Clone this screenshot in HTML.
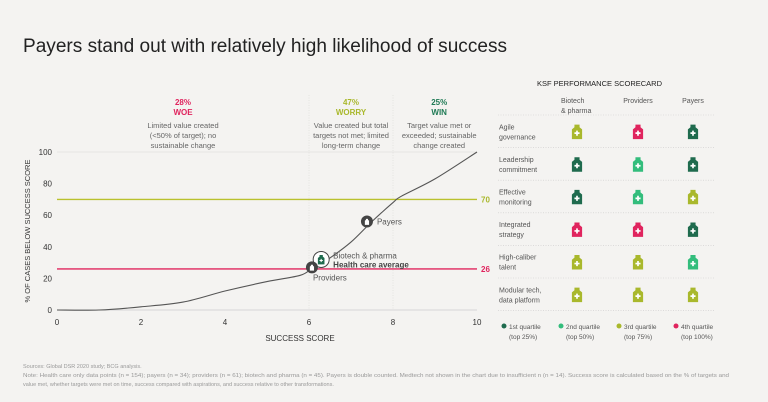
<!DOCTYPE html>
<html><head><meta charset="utf-8"><style>
body{margin:0;background:#f4f3f1;}
svg{display:block;font-family:"Liberation Sans",sans-serif;}
</style></head><body>
<svg id="chart" width="768" height="402" viewBox="0 0 768 402" xmlns="http://www.w3.org/2000/svg">
<rect width="768" height="402" fill="#f4f3f1"/>
<text x="23" y="52" font-size="19" fill="#222" textLength="484" lengthAdjust="spacingAndGlyphs">Payers stand out with relatively high likelihood of success</text>
<g id="plot"></g>
<g id="card"></g>
<text x="23" y="368" font-size="5.5" fill="#999">Sources: Global DSR 2020 study; BCG analysis.</text>
<text x="23" y="377" font-size="5.5" fill="#999" textLength="706" lengthAdjust="spacingAndGlyphs">Note: Health care only data points (n = 154); payers (n = 34); providers (n = 61); biotech and pharma (n = 45). Payers is double counted. Medtech not shown in the chart due to insufficient n (n = 14). Success score is calculated based on the % of targets and</text>
<text x="23" y="386" font-size="5.5" fill="#999">value met, whether targets were met on time, success compared with aspirations, and success relative to other transformations.</text>
</svg>
<script>
const xTicks=[0,2,4,6,8,10];
const yTicks=[0,20,40,60,80,100];
const curveX=[0,1,2,3,4,5,5.8,6.1,6.5,7,7.5,8,8.2,9,10];
const curveY=[0,0,2,5,12,18,22,27,33,43,56,68,72,83,100];
const markerNames=["Payers","Biotech & pharma","Providers"];
const markerX=[7.38,6.29,6.07];
const markerY=[56,32,27];
const refValues=[70,26];
const rowLabels=[["Agile","governance"],["Leadership","commitment"],["Effective","monitoring"],["Integrated","strategy"],["High-caliber","talent"],["Modular tech,","data platform"]];
const colLabels=[["Biotech","& pharma"],["Providers"],["Payers"]];
const quartiles=[[3,4,1],[1,2,1],[1,2,3],[4,4,1],[3,3,2],[3,3,3]];
const qColors=["#1f6b4e","#33bd7c","#a9b82c","#e0245e"];
const qLabels=[["1st quartile","(top 25%)"],["2nd quartile","(top 50%)"],["3rd quartile","(top 75%)"],["4th quartile","(top 100%)"]];

const NS="http://www.w3.org/2000/svg";
function mk(t,a,p,txt){const e=document.createElementNS(NS,t);for(const k in a)e.setAttribute(k,a[k]);if(txt!==undefined)e.textContent=txt;p.appendChild(e);return e;}
const X=v=>57+v*42, Y=v=>310-v*1.58;
const plot=document.getElementById('plot');

let e;
e=mk('line',{x1:X(0),x2:X(10),y1:Y(100),y2:Y(100),stroke:'#e2e0dc','stroke-width':0.8},plot);


[6,8].forEach(v=>{e=mk('line',{x1:X(v),x2:X(v),y1:95,y2:310,stroke:'#e2e0dc','stroke-width':0.8,'stroke-dasharray':'1,1.5'},plot);

});
e=mk('line',{x1:X(0),x2:X(10),y1:Y(0),y2:Y(0),stroke:'#ccc','stroke-width':0.8},plot);


xTicks.forEach(v=>{e=mk('text',{x:X(v),y:325,'font-size':8,fill:'#333','text-anchor':'middle'},plot,String(v));

});
yTicks.forEach(v=>{e=mk('text',{x:52,y:Y(v)+3,'font-size':8,fill:'#333','text-anchor':'end'},plot,String(v));

});
e=mk('text',{x:300,y:341,'font-size':8,fill:'#333','text-anchor':'middle'},plot,'SUCCESS SCORE');


e=mk('text',{x:0,y:0,'font-size':7.5,fill:'#333','text-anchor':'middle',transform:'translate(30,231) rotate(-90)'},plot,'% OF CASES BELOW SUCCESS SCORE');


const refCols=['#b9c12e','#e0245e'];
refValues.forEach((v,i)=>{e=mk('line',{x1:X(0),x2:X(10),y1:Y(v),y2:Y(v),stroke:refCols[i],'stroke-width':1.4},plot);


e=mk('text',{x:X(10)+4,y:Y(v)+3,'font-size':8,'font-weight':'bold',fill:i?'#e0245e':'#a9b82c'},plot,String(v));

});
// smooth curve (Catmull-Rom)
const P=curveX.map((v,i)=>[X(v),Y(curveY[i])]);
let d='M'+P[0][0].toFixed(1)+','+P[0][1].toFixed(1);
for(let i=0;i<P.length-1;i++){const p0=P[Math.max(0,i-1)],p1=P[i],p2=P[i+1],p3=P[Math.min(P.length-1,i+2)];
const c1=[p1[0]+(p2[0]-p0[0])/6,p1[1]+(p2[1]-p0[1])/6],c2=[p2[0]-(p3[0]-p1[0])/6,p2[1]-(p3[1]-p1[1])/6];
d+=`C${c1[0].toFixed(1)},${c1[1].toFixed(1)} ${c2[0].toFixed(1)},${c2[1].toFixed(1)} ${p2[0].toFixed(1)},${p2[1].toFixed(1)}`;}
e=mk('path',{d:d,fill:'none',stroke:'#555','stroke-width':1.1,'stroke-linejoin':'round'},plot);


// zones
const zones=[[3,'28%','WOE','#e0245e',['Limited value created','(<50% of target); no','sustainable change']],[7,'47%','WORRY','#a9b82c',['Value created but total','targets not met; limited','long-term change']],[9.1,'25%','WIN','#1f7a55',['Target value met or','exceeded; sustainable','change created']]];
zones.forEach(z=>{const g=mk('g',{},plot);
mk('text',{x:X(z[0]),y:105,'font-size':8,'font-weight':'bold',fill:z[3],'text-anchor':'middle'},g,z[1]);
mk('text',{x:X(z[0]),y:115,'font-size':8,'font-weight':'bold',fill:z[3],'text-anchor':'middle'},g,z[2]);
z[4].forEach((t,i)=>mk('text',{x:X(z[0]),y:128+i*10,'font-size':7.5,fill:'#666','text-anchor':'middle'},g,t));});
function bottle(g,cx,cy,s,col){
 mk('path',{d:`M${cx-3*s},${cy-9*s}h${6*s}v${3*s}l${3*s},${2.5*s}v${11.5*s}h${-12*s}v${-11.5*s}l${3*s},${-2.5*s}z`,fill:col},g);
 mk('path',{d:`M${cx-1*s},${cy-2*s}h${2*s}v${2*s}h${2*s}v${2*s}h${-2*s}v${2*s}h${-2*s}v${-2*s}h${-2*s}v${-2*s}h${2*s}z`,fill:'#fff'},g);
}
// markers
markerNames.forEach((n,i)=>{const g=mk('g',{},plot);


const cx=X(markerX[i]),cy=Y(markerY[i]);const big=i===1;
if(big){mk('circle',{cx:cx,cy:cy,r:8,fill:'#fff',stroke:'#444','stroke-width':1},g);bottle(g,cx,cy+0.5,0.55,'#1f6b4e');}
else{mk('circle',{cx:cx,cy:cy,r:6,fill:'#444'},g);bottle(g,cx,cy+0.5,0.35,'#fff');}
if(i===0)mk('text',{x:cx+10,y:cy+3,'font-size':8,fill:'#555'},g,n);
if(i===1){mk('text',{x:cx+12,y:cy-1,'font-size':8,fill:'#555'},g,n);mk('text',{x:cx+12,y:cy+8,'font-size':8,'font-weight':'bold',fill:'#444'},g,'Health care average');}
if(i===2)mk('text',{x:cx+1,y:cy+13,'font-size':8,fill:'#555'},g,n);});
// scorecard
const card=document.getElementById('card');
e=mk('text',{x:537,y:86,'font-size':7.5,fill:'#222'},card,'KSF PERFORMANCE SCORECARD');


const colX=[577,638,693];
colLabels.forEach((c,i)=>c.forEach((t,j)=>{e=mk('text',{x:colX[i],y:103+j*10,'font-size':7,fill:'#555','text-anchor':c.length>1?'start':'middle'},card,t);
if(c.length>1)e.setAttribute('x',561);

}));
const rowTop=115,rowH=32.6;
for(let r=0;r<=6;r++){e=mk('line',{x1:498,x2:714,y1:rowTop+r*rowH,y2:rowTop+r*rowH,stroke:'#ccc','stroke-width':0.6,'stroke-dasharray':'1,1.5'},card);

}
rowLabels.forEach((lab,r)=>{const cy=rowTop+r*rowH+rowH/2;
lab.forEach((t,j)=>{e=mk('text',{x:499,y:cy-2+j*10,'font-size':7,fill:'#555'},card,t);

});
quartiles[r].forEach((q,c)=>{const g=mk('g',{},card);


bottle(g,colX[c],cy+1,0.85,qColors[q-1]);});});
const lx=[504,561,619,676];
qLabels.forEach((l,i)=>{const g=mk('g',{},card);


mk('circle',{cx:lx[i],cy:326,r:2.5,fill:qColors[i]},g);
mk('text',{x:lx[i]+5,y:329,'font-size':6.5,fill:'#555'},g,l[0]);
mk('text',{x:lx[i]+5,y:339,'font-size':6.5,fill:'#555'},g,l[1]);});
</script>
</body></html>
